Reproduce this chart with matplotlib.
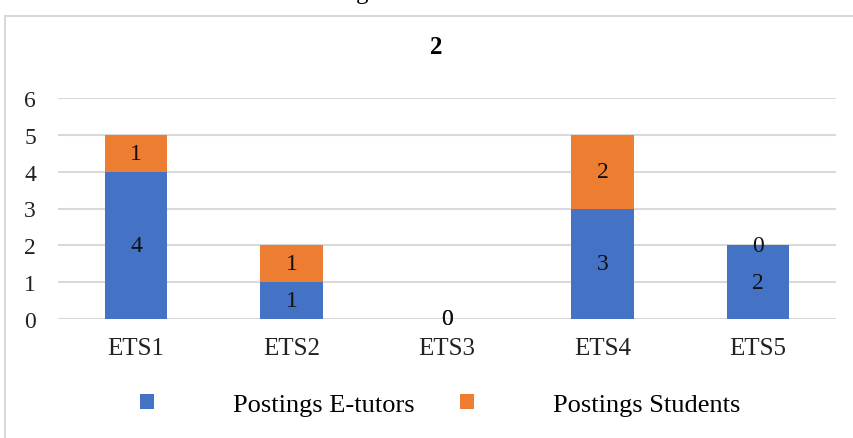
import matplotlib
matplotlib.use("Agg")
import matplotlib.pyplot as plt
from matplotlib.patches import Rectangle, Patch

categories = ["ETS1", "ETS2", "ETS3", "ETS4", "ETS5"]
etutors = [4, 1, 0, 3, 2]
students = [1, 1, 0, 2, 0]
series_names = ["Postings E-tutors", "Postings Students"]
title = "2"
yticks = [0, 1, 2, 3, 4, 5, 6]

plt.rcParams['font.family'] = ['Liberation Serif', 'DejaVu Serif']

W, H = 854, 439
fig = plt.figure(figsize=(W / 100, H / 100), dpi=100)
ax = fig.add_axes([58.25 / W, 119 / H, 777.5 / W, 221 / H])

blue = "#4472C4"
orange = "#ED7D31"
x = range(len(categories))
b1 = ax.bar(x, etutors, width=0.4, color=blue, zorder=3, label=series_names[0])
b2 = ax.bar(x, students, width=0.4, bottom=etutors, color=orange, zorder=3, label=series_names[1])
ax.bar_label(b1, labels=[str(v) for v in etutors], label_type='center', fontsize=17, color='#111111')
ax.bar_label(b2, labels=[str(v) for v in students], label_type='center', fontsize=17, color='#111111')

ax.set_xlim(-0.5, len(categories) - 0.5)
ax.set_ylim(0, 6)
ax.set_yticks(yticks)
ax.set_yticklabels([str(v) for v in yticks], fontsize=17, color='#222222')
ax.set_xticks(list(x))
ax.set_xticklabels(categories, fontsize=18, color='#222222')
ax.tick_params(axis='both', length=0)
ax.tick_params(axis='y', pad=16)
ax.tick_params(axis='x', pad=13)
ax.grid(axis='y', color='#d9d9d9', linewidth=1.5, zorder=0)
for s in ax.spines.values():
    s.set_visible(False)

fig.text(436 / W, 1 - 48 / H, title, ha='center', va='center', fontsize=18, fontweight='bold')
fig.text(362 / W, 1 + 1.5 / H, "g", ha='center', va='baseline', fontsize=18)

fig.patches.append(Rectangle((5 / W, -0.05), 1.0, 1 - 17 / H + 0.05, transform=fig.transFigure,
                             fill=False, edgecolor='#d9d9d9', linewidth=1.5))

handles = [Patch(facecolor=blue), Patch(facecolor=orange)]
fig.legend(handles, series_names, loc='center', bbox_to_anchor=(440 / W, 1 - 406 / H), ncol=2,
           frameon=False, fontsize=19, handlelength=0.53, handleheight=0.53,
           handletextpad=3.0, columnspacing=1.7)

fig.savefig("out.png", dpi=100)
